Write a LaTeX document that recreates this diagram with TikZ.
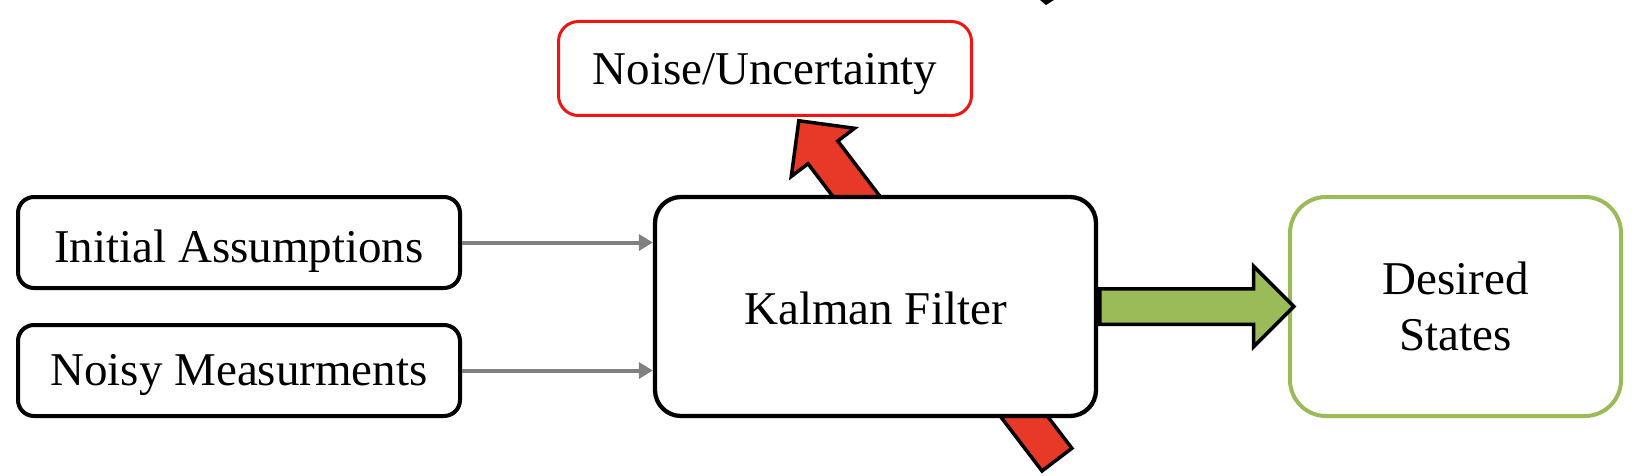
\documentclass[tikz,border=0pt]{standalone}
\usepackage{fontspec}
\setmainfont{Liberation Serif}
\usetikzlibrary{arrows.meta,shapes.arrows,calc}
\definecolor{arrowred}{RGB}{232,56,40}
\definecolor{boxred}{RGB}{240,20,20}
\definecolor{okgreen}{RGB}{155,187,89}
\definecolor{linegray}{RGB}{128,128,128}
\tikzset{
  txt/.style={font=\fontsize{47}{56}\selectfont, align=center, inner sep=0pt},
  basedrop/.style={text height=#1, text depth=0pt},
  blackbox/.style={txt, draw=black, line width=4pt, rounded corners=16pt, fill=white},
  kalbox/.style={txt, draw=black, line width=4.3pt, rounded corners=26pt, fill=white},
  redbox/.style={txt, draw=boxred, line width=3pt, rounded corners=20pt, fill=white},
  greenbox/.style={txt, draw=okgreen, line width=4pt, rounded corners=36pt, fill=white},
  feed/.style={draw=linegray, line width=4pt, -{Triangle[length=14pt,width=16pt]}},
  fatarrow/.style={single arrow, draw=black, line width=3.5pt, inner xsep=0pt, text width=0pt},
}
\begin{document}
\begin{tikzpicture}[x=1pt,y=-1pt]
\useasboundingbox (0,0) rectangle (1632,476);
% big red arrow behind the Kalman box
\coordinate (rtail) at (1058,461);
\node[fatarrow, fill=arrowred, inner ysep=17pt, single arrow head extend=21pt,
      minimum height=426pt, rotate=127.3, anchor=tail] (redarr) at (rtail) {};
% boxes
\node[blackbox, basedrop=39pt, minimum width=442pt, minimum height=91pt] (init) at (239,242.5) {Initial Assumptions};
\node[blackbox, basedrop=29pt, minimum width=442pt, minimum height=91pt] (noisy) at (239,370.5) {Noisy Measurments};
\node[kalbox, basedrop=35pt, minimum width=441pt, minimum height=219pt] (kal) at (875.5,306.5) {Kalman Filter};
\node[redbox, basedrop=33pt, minimum width=413pt, minimum height=94pt] (noise) at (765,68.5) {Noise/Uncertainty};
\node[greenbox, minimum width=331pt, minimum height=219pt] (des) at (1455.5,306.5) {Desired\\States};
% connectors
\draw[feed] (init.east) -- (init.east -| kal.west);
\draw[feed] (noisy.east) -- (noisy.east -| kal.west);
\node[fatarrow, fill=okgreen, inner ysep=16pt, single arrow head extend=22.5pt,
      minimum height=194pt, anchor=tail] (grarr) at (kal.east) {};
% small cut-off mark at the top edge
\fill[black] (1040,0) -- (1054,0) -- (1046,5) -- cycle;
\end{tikzpicture}
\end{document}
